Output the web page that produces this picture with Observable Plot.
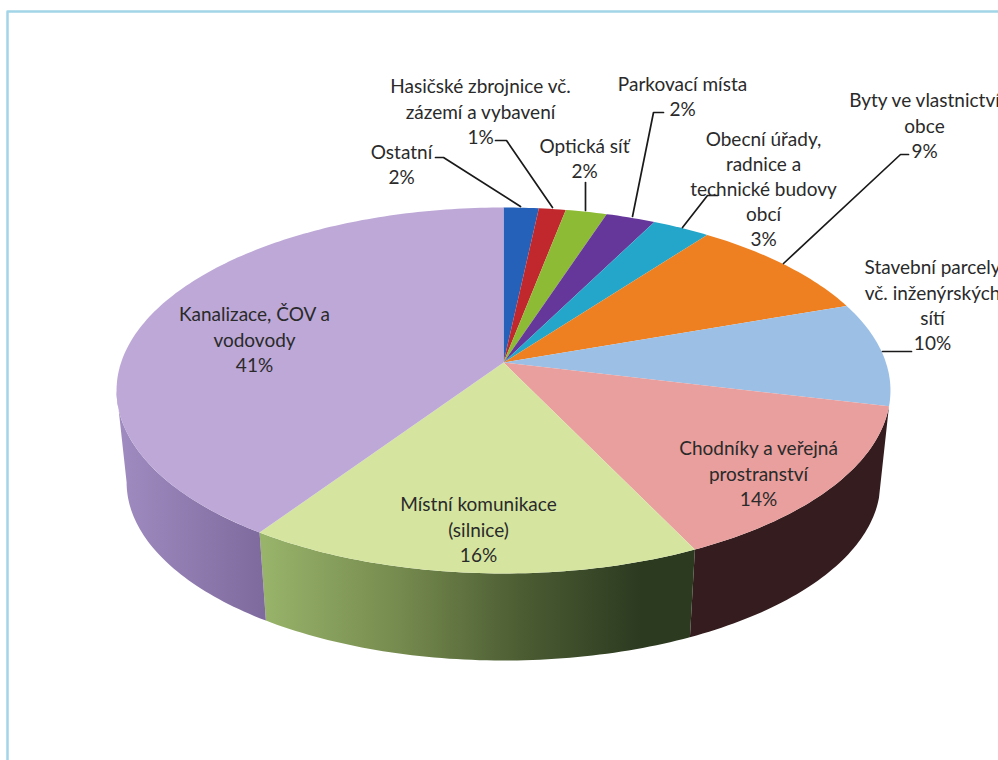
<!DOCTYPE html>
<html lang="cs">
<head>
<meta charset="utf-8">
<style>
html,body{margin:0;padding:0;background:#fff;overflow:hidden;width:998px;height:760px}
svg{display:block}
</style>
<script src="https://cdn.jsdelivr.net/npm/d3@7"></script>
<script src="https://cdn.jsdelivr.net/npm/@observablehq/plot@0.6"></script>
</head>
<body>
<div id="chart"></div>
<script>
// ---- data, clockwise from 12 o'clock ----
const categories = [
  "Ostatní",
  "Hasičské zbrojnice vč.\nzázemí a vybavení",
  "Optická síť",
  "Parkovací místa",
  "Obecní úřady,\nradnice a\ntechnické budovy\nobcí",
  "Byty ve vlastnictví\nobce",
  "Stavební parcely\nvč. inženýrských\nsítí",
  "Chodníky a veřejná\nprostranství",
  "Místní komunikace\n(silnice)",
  "Kanalizace, ČOV a\nvodovody"
];
const shares = [1.7, 1.3, 2.0, 2.4, 2.8, 9.4, 9.2, 14.1, 16.5, 40.6];
const percentLabels = ["2%", "1%", "2%", "2%", "3%", "9%", "10%", "14%", "16%", "41%"];

// ---- colours ----
const topColors = ["#2561b9", "#c0282d", "#8dbb35", "#66379b", "#23a6c9", "#ee8021", "#9cbfe6", "#e89f9d", "#d5e5a0", "#bda8d7"];
const sideColors = {7: "#351d1f"};
const sideGradients = {
  9: [[116, "#a08cc0"], [264, "#7f6a9e"]],
  8: [[264, "#98b36a"], [400, "#758a4e"], [520, "#4c5d33"], [640, "#2c3a20"]]
};

// ---- layout: label block centres and leader lines, in picture pixels ----
const labelAt = [[401,162.5],[480,110],[584,157],[682,94.5],[763,187.5],[924,124],[932,303.5],[758,472],[478,528],[254,338]];
const leaders = [
  [[435,157],[443,157],[520,206]],
  [[495,140],[506,140],[552,207]],
  [[585,182],[585,210]],
  [[663,112],[653,112],[632,216]],
  [[717,195],[707,195],[682,227]],
  [[908,154],[900,154],[783,263]],
  [[911,351],[882,351]]
];
const borderPath = [[7,760],[7,11],[998,11]];

// ---- perspective disc model ----
const apexX = 503, apexY = 362, persp = 0.153, radX = 382.4, radY = 178.7;
const lowerY = 454.5, lowerScale = 0.974;
function project(deg, cy = apexY, s = 1) {
  const t = deg * Math.PI / 180, X = Math.sin(t), Y = Math.cos(t), w = 1 + persp * Y;
  return [apexX + s * radX * X / w, cy - s * radY * Y / w];
}
function arc(a0, a1) {
  const n = Math.max(2, Math.ceil(Math.abs(a1 - a0)));
  return d3.range(n + 1).map(i => a0 + (a1 - a0) * i / n);
}
const cum = d3.cumsum(shares);
const total = cum[cum.length - 1];
const slices = categories.map((c, i) => ({c, i, a0: (i ? cum[i - 1] : 0) / total * 360, a1: cum[i] / total * 360}));

const tops = slices.flatMap(s => [
  {c: s.c, p: [apexX, apexY]},
  ...arc(s.a0, s.a1).map(a => ({c: s.c, p: project(a)}))
]);
// visible wall lies between the two silhouette angles of the disc
const tangent = Math.acos(-persp) * 180 / Math.PI;
const walls = slices
  .filter(s => s.a1 > tangent && s.a0 < 360 - tangent)
  .map(s => {
    const a0 = Math.max(s.a0, tangent), a1 = Math.min(s.a1, 360 - tangent);
    const pts = [...arc(a0, a1).map(a => project(a)), ...arc(a1, a0).map(a => project(a, lowerY, lowerScale))];
    return {i: s.i, pts};
  });

const labels = categories.map((c, i) => ({text: c + "\n" + percentLabels[i], at: labelAt[i]}));
const leaderRows = leaders.flatMap((l, id) => l.map(p => ({id, p})));

const gradientDefs = (index, {x}) => {
  const defs = d3.create("svg:defs");
  for (const [i, stops] of Object.entries(sideGradients)) {
    const g = defs.append("linearGradient").attr("id", "wall" + i).attr("gradientUnits", "userSpaceOnUse")
      .attr("x1", x(stops[0][0])).attr("x2", x(stops[stops.length - 1][0])).attr("y1", 0).attr("y2", 0);
    const lo = stops[0][0], hi = stops[stops.length - 1][0];
    for (const [pos, col] of stops) g.append("stop").attr("offset", (pos - lo) / (hi - lo)).attr("stop-color", col);
  }
  return defs.node();
};

const chart = Plot.plot({
  width: 998, height: 760,
  margin: 0,
  x: {domain: [0, 998], range: [0, 998], axis: null},
  y: {domain: [0, 760], range: [0, 760], axis: null},
  color: {domain: categories, range: topColors},
  style: {background: "#fff", fontFamily: "Lato, 'Open Sans', sans-serif", overflow: "hidden"},
  marks: [
    gradientDefs,
    Plot.line(borderPath, {x: d => d[0], y: d => d[1], stroke: "#a3d5e8", strokeWidth: 2.5}),
    ...walls.map(w => Plot.line(w.pts, {
      x: d => d[0], y: d => d[1], fill: sideColors[w.i] || `url(#wall${w.i})`, stroke: null
    })),
    Plot.line(tops, {x: d => d.p[0], y: d => d.p[1], z: "c", fill: "c", stroke: null}),
    Plot.line(leaderRows, {x: d => d.p[0], y: d => d.p[1], z: "id", stroke: "#1a1a1a", strokeWidth: 1.7}),
    Plot.text(labels, {
      x: d => d.at[0], y: d => d.at[1], text: "text",
      fontSize: 19, lineHeight: 1.32, fill: "#2a2a2a", textAnchor: "middle"
    })
  ]
});
document.getElementById("chart").append(chart);
</script>
</body>
</html>
